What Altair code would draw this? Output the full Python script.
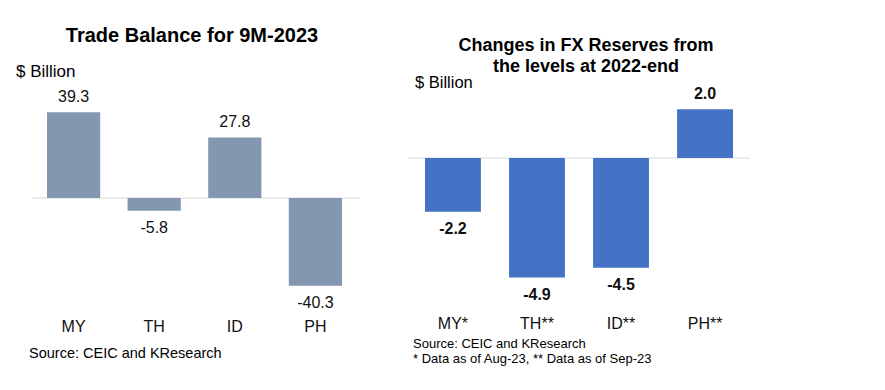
import altair as alt
import pandas as pd

# ---- data ----
tb_countries = ["MY", "TH", "ID", "PH"]
tb_values = [39.3, -5.8, 27.8, -40.3]
fx_countries = ["MY*", "TH**", "ID**", "PH**"]
fx_values = [-2.2, -4.9, -4.5, 2.0]

left_title = "Trade Balance for 9M-2023"
right_title = ["Changes in FX Reserves from", "the levels at 2022-end"]
unit_label = "$ Billion"
left_source = "Source: CEIC and KResearch"
right_source = "Source: CEIC and KResearch"
right_note = "* Data as of Aug-23, ** Data as of Sep-23"

FONT = "Liberation Sans"
TXT = "#111111"

tb = pd.DataFrame({"country": tb_countries, "value": tb_values,
                   "label": [f"{v:.1f}" for v in tb_values]})
fx = pd.DataFrame({"country": fx_countries, "value": fx_values,
                   "label": [f"{v:.1f}" for v in fx_values]})
zero = pd.DataFrame({"v": [0]})
one = pd.DataFrame({"k": [0]})

# ---- left panel ----
tb_x = alt.X("country:N", sort=tb_countries, axis=None,
             scale=alt.Scale(range=[39, 334], paddingInner=0.34, paddingOuter=0))
tb_y = alt.Y("value:Q", axis=None,
             scale=alt.Scale(domain=[-50, 50], range=[299, 81], nice=False))

tb_rule = alt.Chart(zero).mark_rule(color="#D9D9D9", strokeWidth=1).encode(
    y=alt.Y("v:Q", axis=None, scale=alt.Scale(domain=[-50, 50], range=[299, 81], nice=False)),
    x=alt.value(24), x2=alt.value(352))
tb_bars = alt.Chart(tb).mark_bar(color="#8497B0").encode(x=tb_x, y=tb_y)
tb_pos = alt.Chart(tb).transform_filter("datum.value >= 0").mark_text(
    font=FONT, fontSize=16, color=TXT, baseline="middle", dy=-15).encode(
    x=tb_x, y=tb_y, text="label:N")
tb_neg = alt.Chart(tb).transform_filter("datum.value < 0").mark_text(
    font=FONT, fontSize=16, color=TXT, baseline="middle", dy=17.5).encode(
    x=tb_x, y=tb_y, text="label:N")
tb_cat = alt.Chart(tb).mark_text(font=FONT, fontSize=16, color=TXT, baseline="middle").encode(
    x=tb_x, y=alt.value(318.7), text="country:N")

left = alt.layer(tb_rule, tb_bars, tb_pos, tb_neg, tb_cat)

# ---- right panel ----
fx_x = alt.X("country:N", sort=fx_countries, axis=None,
             scale=alt.Scale(range=[417, 725], paddingInner=0.335, paddingOuter=0))
fx_y = alt.Y("value:Q", axis=None,
             scale=alt.Scale(domain=[-6, 6], range=[296.4, 3.6], nice=False))

fx_rule = alt.Chart(zero).mark_rule(color="#D9D9D9", strokeWidth=1).encode(
    y=alt.Y("v:Q", axis=None, scale=alt.Scale(domain=[-6, 6], range=[296.4, 3.6], nice=False)),
    x=alt.value(400), x2=alt.value(742))
fx_bars = alt.Chart(fx).mark_bar(color="#4472C4").encode(x=fx_x, y=fx_y)
fx_pos = alt.Chart(fx).transform_filter("datum.value >= 0").mark_text(
    font=FONT, fontSize=16, fontWeight="bold", color=TXT, baseline="middle", dy=-15).encode(
    x=fx_x, y=fx_y, text="label:N")
fx_neg = alt.Chart(fx).transform_filter("datum.value < 0").mark_text(
    font=FONT, fontSize=16, fontWeight="bold", color=TXT, baseline="middle", dy=17.5).encode(
    x=fx_x, y=fx_y, text="label:N")
fx_cat = alt.Chart(fx).mark_text(font=FONT, fontSize=16, color=TXT, baseline="middle").encode(
    x=fx_x, y=alt.value(316), text="country:N")

right = alt.layer(fx_rule, fx_bars, fx_pos, fx_neg, fx_cat)

# ---- annotations ----
def txt(text, x, y, size, align="left", weight="normal", line_height=None):
    kw = dict(font=FONT, fontSize=size, color="#000000", align=align,
              baseline="middle", fontWeight=weight)
    if line_height is not None:
        kw["lineHeight"] = line_height
    return alt.Chart(one).mark_text(**kw).encode(
        x=alt.value(x), y=alt.value(y), text=alt.value(text))

annotations = [
    txt(left_title, 184, 28, 20, align="center", weight="bold"),
    txt(unit_label, 8, 64, 17),
    txt(left_source, 21, 346, 14.5),
    txt(right_title, 578, 37.5, 18, align="center", weight="bold", line_height=21),
    txt(unit_label, 407, 75, 16.5),
    txt(right_source, 405, 336, 13),
    txt(right_note, 405, 351, 13),
]

chart = alt.layer(left, right, *annotations).resolve_scale(
    x="independent", y="independent"
).properties(
    width=869, height=374, autosize="none", padding=0
).configure_view(stroke=None)

chart.save("out.html", embed_options={"renderer": "svg", "actions": False})
